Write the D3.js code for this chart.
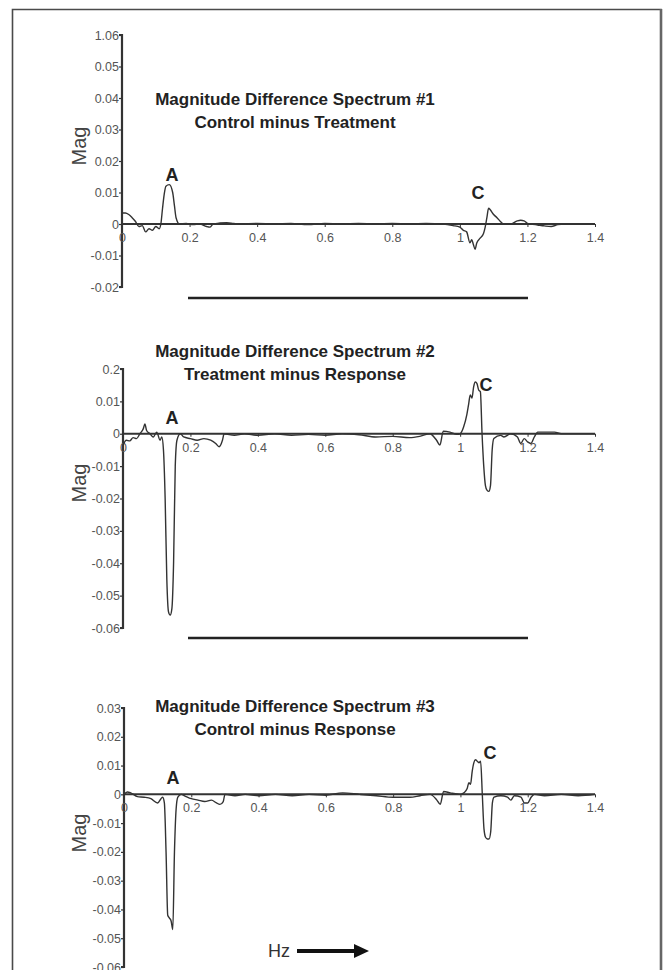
<!DOCTYPE html>
<html>
<head>
<meta charset="utf-8">
<script src="https://cdn.jsdelivr.net/npm/d3@7"></script>
<style>
  html, body { margin: 0; padding: 0; background: #fff; }
  svg { display: block; }
</style>
</head>
<body>
<svg id="chart" width="668" height="970"></svg>
<script>
// ---------------- DATA ----------------
const xTickValues = [0, 0.2, 0.4, 0.6, 0.8, 1.0, 1.2, 1.4];
const xTickLabels = ["0", "0.2", "0.4", "0.6", "0.8", "1", "1.2", "1.4"];

const titles1 = ["Magnitude Difference Spectrum #1", "Control minus Treatment"];
const titles2 = ["Magnitude Difference Spectrum #2", "Treatment minus Response"];
const titles3 = ["Magnitude Difference Spectrum #3", "Control minus Response"];

const yTicks1 = [0.06, 0.05, 0.04, 0.03, 0.02, 0.01, 0, -0.01, -0.02];
const yLabels1 = ["1.06", "0.05", "0.04", "0.03", "0.02", "0.01", "0", "-0.01", "-0.02"];
const yTicks2 = [0.02, 0.01, 0, -0.01, -0.02, -0.03, -0.04, -0.05, -0.06];
const yLabels2 = ["0.2", "0.01", "0", "-0.01", "-0.02", "-0.03", "-0.04", "-0.05", "-0.06"];
const yTicks3 = [0.03, 0.02, 0.01, 0, -0.01, -0.02, -0.03, -0.04, -0.05, -0.06];
const yLabels3 = ["0.03", "0.02", "0.01", "0", "-0.01", "-0.02", "-0.03", "-0.04", "-0.05", "-0.06"];

// Spectrum #1 : Control minus Treatment
const hz1  = [0, 0.01, 0.02, 0.03, 0.04, 0.05, 0.06, 0.07, 0.08, 0.09, 0.10, 0.11, 0.115, 0.12, 0.125, 0.13, 0.14, 0.15, 0.155, 0.16, 0.17, 0.19, 0.21, 0.23, 0.25, 0.26, 0.27, 0.29, 0.31, 0.33, 0.35, 0.40, 0.45, 0.50, 0.55, 0.60, 0.65, 0.70, 0.75, 0.80, 0.85, 0.90, 0.95, 0.98, 1.00, 1.01, 1.02, 1.03, 1.035, 1.04, 1.045, 1.05, 1.06, 1.07, 1.075, 1.08, 1.085, 1.09, 1.10, 1.11, 1.12, 1.13, 1.15, 1.17, 1.18, 1.19, 1.20, 1.21, 1.23, 1.25, 1.27, 1.29, 1.31, 1.35, 1.40];
const mag1 = [0.0035, 0.0035, 0.003, 0.002, 0.0008, -0.0008, -0.0005, -0.0025, -0.0015, -0.002, -0.0008, -0.0015, 0.0, 0.005, 0.0095, 0.012, 0.0125, 0.010, 0.006, 0.002, 0.0, 0.0002, -0.0002, 0.0, -0.0008, -0.001, 0.0, 0.0003, 0.0004, 0.0002, 0.0, 0.0002, 0.0, 0.0002, -0.0002, 0.0002, 0.0, 0.0002, 0.0, 0.0002, 0.0, 0.0002, 0.0, -0.0005, -0.001, -0.002, -0.0025, -0.006, -0.005, -0.0065, -0.008, -0.006, -0.0045, -0.003, -0.001, 0.002, 0.005, 0.0045, 0.003, 0.002, 0.0008, 0.0, 0.0, 0.001, 0.0012, 0.001, 0.0002, 0.0, -0.0003, -0.0006, -0.0008, -0.0002, 0.0, 0.0, 0.0];

// Spectrum #2 : Treatment minus Response
const hz2  = [0, 0.01, 0.02, 0.03, 0.04, 0.05, 0.06, 0.065, 0.07, 0.08, 0.09, 0.10, 0.11, 0.115, 0.12, 0.125, 0.13, 0.135, 0.14, 0.145, 0.15, 0.155, 0.16, 0.17, 0.18, 0.20, 0.22, 0.24, 0.26, 0.275, 0.285, 0.295, 0.30, 0.33, 0.36, 0.40, 0.45, 0.50, 0.55, 0.60, 0.65, 0.70, 0.75, 0.80, 0.85, 0.88, 0.91, 0.93, 0.94, 0.95, 0.97, 0.99, 1.00, 1.01, 1.02, 1.025, 1.03, 1.035, 1.04, 1.045, 1.05, 1.055, 1.06, 1.065, 1.07, 1.075, 1.08, 1.085, 1.09, 1.095, 1.10, 1.12, 1.13, 1.15, 1.17, 1.18, 1.19, 1.20, 1.21, 1.22, 1.23, 1.25, 1.28, 1.30, 1.40];
const mag2 = [-0.0035, -0.002, -0.0022, -0.0012, -0.0015, 0.0, 0.0015, 0.003, 0.001, 0.0, -0.001, 0.0005, -0.002, -0.001, -0.005, -0.02, -0.045, -0.055, -0.056, -0.054, -0.04, -0.01, -0.002, 0.0, -0.001, -0.0015, -0.002, -0.0015, -0.002, -0.003, -0.004, -0.002, 0.0, -0.0005, 0.0, -0.0005, 0.0, -0.0005, -0.0002, -0.0005, 0.0, -0.0003, -0.001, -0.0008, -0.0012, -0.0008, 0.0, -0.002, -0.0035, 0.0008, 0.0005, -0.0002, 0.0, 0.002, 0.006, 0.009, 0.012, 0.011, 0.0145, 0.016, 0.0155, 0.0135, 0.013, 0.0, -0.01, -0.016, -0.0175, -0.0178, -0.016, -0.005, -0.0015, -0.0005, -0.001, 0.0, -0.001, -0.003, -0.0015, -0.0025, -0.003, -0.001, 0.0005, 0.0005, 0.0005, 0.0, 0.0];

// Spectrum #3 : Control minus Response
const hz3  = [0, 0.01, 0.02, 0.04, 0.06, 0.08, 0.10, 0.11, 0.115, 0.12, 0.125, 0.13, 0.135, 0.14, 0.145, 0.15, 0.155, 0.16, 0.17, 0.18, 0.20, 0.22, 0.24, 0.26, 0.275, 0.285, 0.295, 0.30, 0.33, 0.36, 0.40, 0.45, 0.50, 0.55, 0.60, 0.65, 0.70, 0.75, 0.80, 0.85, 0.88, 0.91, 0.93, 0.94, 0.95, 0.97, 1.00, 1.01, 1.02, 1.025, 1.03, 1.035, 1.04, 1.045, 1.05, 1.055, 1.06, 1.065, 1.07, 1.075, 1.08, 1.085, 1.09, 1.095, 1.10, 1.12, 1.14, 1.15, 1.16, 1.18, 1.19, 1.20, 1.21, 1.22, 1.25, 1.30, 1.35, 1.40];
const mag3 = [0.0, 0.0008, 0.0005, -0.0008, -0.001, -0.0015, -0.003, -0.0015, -0.001, -0.003, -0.02, -0.042, -0.043, -0.044, -0.047, -0.02, -0.005, -0.001, 0.0, -0.0005, -0.0015, -0.002, -0.0025, -0.002, -0.003, -0.0035, -0.0025, 0.0, -0.0005, 0.0, -0.0005, 0.0, -0.0005, 0.0, -0.0003, 0.0005, 0.0, -0.0005, -0.001, -0.001, -0.0005, 0.0, -0.002, -0.0035, 0.001, 0.0005, 0.0, 0.0005, 0.002, 0.004, 0.0035, 0.008, 0.011, 0.012, 0.0115, 0.011, 0.0115, 0.0, -0.012, -0.015, -0.0155, -0.0155, -0.013, -0.003, -0.001, -0.0005, -0.001, -0.002, -0.0005, -0.001, -0.003, -0.003, -0.001, 0.0, -0.0005, 0.0, -0.0005, 0.0];

// ---------------- DRAW ----------------
const svg = d3.select("#chart");
const FONT = "'Liberation Sans', Arial, sans-serif";

// outer frame (left, top, right)
svg.append("path")
  .attr("d", "M12.5,970 L12.5,9.5 L661,9.5 L661,970")
  .attr("fill", "none").attr("stroke", "#4a4a4a").attr("stroke-width", 1.6);
svg.append("line").attr("x1", 661).attr("x2", 661).attr("y1", 9).attr("y2", 970)
  .attr("stroke", "#666").attr("stroke-width", 2.6);

const panels = [
  { hz: hz1, mag: mag1, titles: titles1, yTicks: yTicks1, yLabels: yLabels1,
    yDomain: [-0.02, 0.06], yRange: [287, 35], x0: 122, titleY: 105, magY: 146,
    aLabel: [172, 181], cLabel: [478, 199], sepY: 298 },
  { hz: hz2, mag: mag2, titles: titles2, yTicks: yTicks2, yLabels: yLabels2,
    yDomain: [-0.06, 0.02], yRange: [628, 369], x0: 123, titleY: 357, magY: 483,
    aLabel: [172, 424], cLabel: [486, 391], sepY: 638 },
  { hz: hz3, mag: mag3, titles: titles3, yTicks: yTicks3, yLabels: yLabels3,
    yDomain: [-0.06, 0.03], yRange: [967, 708], x0: 124, titleY: 712, magY: 833,
    aLabel: [173, 784], cLabel: [490, 759], sepY: null }
];

panels.forEach(p => {
  const x = d3.scaleLinear().domain([0, 1.4]).range([p.x0, 595]);
  const y = d3.scaleLinear().domain(p.yDomain).range(p.yRange);
  const g = svg.append("g");

  // y axis
  const yAxis = d3.axisLeft(y).tickValues(p.yTicks)
    .tickFormat((d, i) => p.yLabels[i]).tickSize(3).tickPadding(0);
  const ya = g.append("g").attr("transform", `translate(${p.x0},0)`).call(yAxis);
  ya.select(".domain").attr("stroke", "#333").attr("stroke-width", 2.2)
    .attr("d", `M-3,${p.yRange[1]}H0V${p.yRange[0]}H-3`);
  ya.selectAll(".tick line").attr("stroke", "#333").attr("stroke-width", 1.2);
  ya.selectAll(".tick text").attr("fill", "#555").style("font-family", FONT).style("font-size", "12.5px");

  // x axis at y = 0
  const xAxis = d3.axisBottom(x).tickValues(xTickValues)
    .tickFormat((d, i) => xTickLabels[i]).tickSize(3).tickPadding(6);
  const xa = g.append("g").attr("transform", `translate(0,${y(0)})`).call(xAxis);
  xa.select(".domain").attr("stroke", "#333").attr("stroke-width", 2)
    .attr("d", `M${p.x0},0H595`);
  xa.selectAll(".tick line").attr("stroke", "#333").attr("stroke-width", 1);
  xa.selectAll(".tick text").attr("fill", "#555").style("font-family", FONT).style("font-size", "12.5px");

  // data line
  const line = d3.line()
    .x((d, i) => x(p.hz[i]))
    .y((d, i) => y(p.mag[i]))
    .curve(d3.curveMonotoneX);
  g.append("path").datum(p.mag)
    .attr("d", line)
    .attr("fill", "none").attr("stroke", "#333").attr("stroke-width", 1.4);

  // titles
  p.titles.forEach((t, i) => {
    g.append("text").attr("x", 295).attr("y", p.titleY + i * 22.5)
      .attr("text-anchor", "middle")
      .style("font-family", FONT).style("font-weight", "bold").style("font-size", "17px")
      .attr("fill", "#222").text(t);
  });

  // Mag label
  g.append("text")
    .attr("transform", `translate(86,${p.magY}) rotate(-90)`)
    .attr("text-anchor", "middle")
    .style("font-family", FONT).style("font-size", "20px").attr("fill", "#444")
    .text("Mag");

  // peak labels
  g.append("text").attr("x", p.aLabel[0]).attr("y", p.aLabel[1]).attr("text-anchor", "middle")
    .style("font-family", FONT).style("font-weight", "bold").style("font-size", "18px")
    .attr("fill", "#222").text("A");
  g.append("text").attr("x", p.cLabel[0]).attr("y", p.cLabel[1]).attr("text-anchor", "middle")
    .style("font-family", FONT).style("font-weight", "bold").style("font-size", "18px")
    .attr("fill", "#222").text("C");

  // separator line
  if (p.sepY !== null) {
    g.append("line").attr("x1", 188).attr("x2", 528).attr("y1", p.sepY).attr("y2", p.sepY)
      .attr("stroke", "#222").attr("stroke-width", 2.5);
  }
});

// Hz arrow
svg.append("text").attr("x", 268).attr("y", 957)
  .style("font-family", FONT).style("font-size", "18px").attr("fill", "#333").text("Hz");
svg.append("line").attr("x1", 297).attr("x2", 356).attr("y1", 951).attr("y2", 951)
  .attr("stroke", "#111").attr("stroke-width", 4);
svg.append("path").attr("d", "M354,944 L369,951 L354,958 Z").attr("fill", "#111");
</script>
</body>
</html>
